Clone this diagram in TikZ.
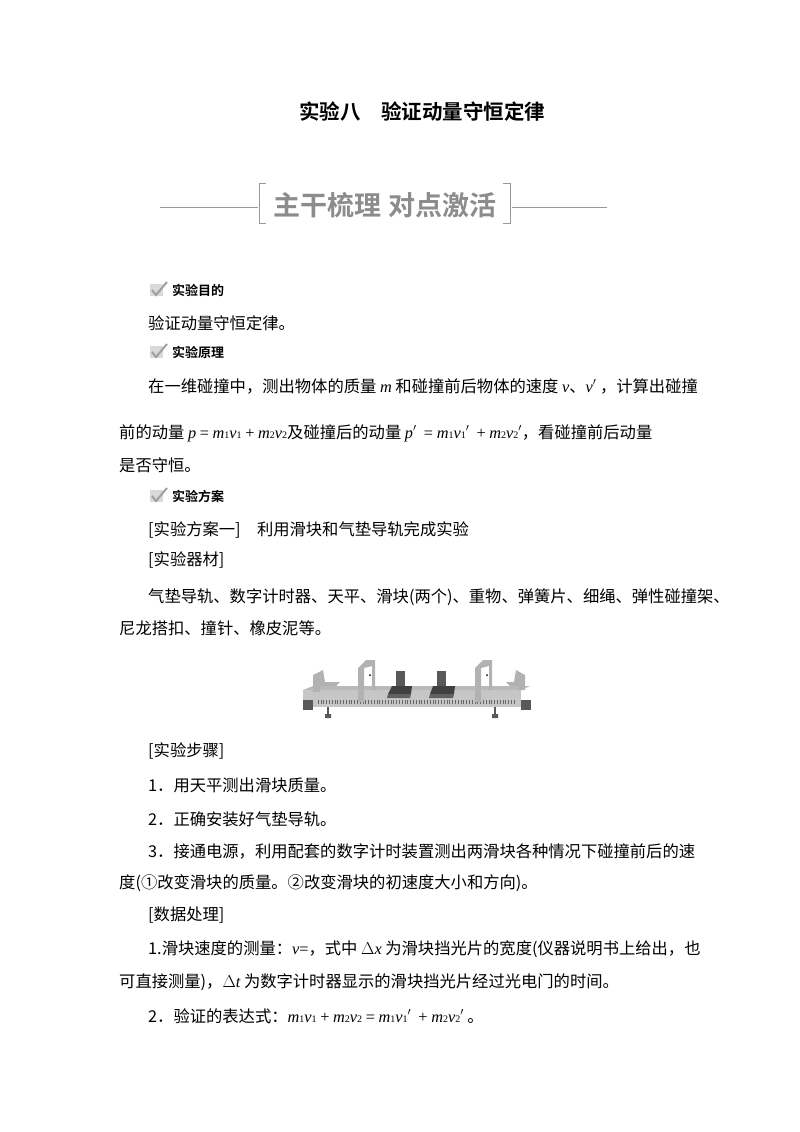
\documentclass[tikz,border=0pt]{standalone}
\usepackage{fontspec}
\setmainfont{Noto Sans CJK SC}
\newfontfamily\cjkb{Noto Sans CJK SC Bold}
\newfontfamily\tms{Liberation Serif}
\newcommand{\mi}[1]{{\tms\itshape #1}}
\newcommand{\mr}[1]{{\tms #1}}
\newcommand{\sbs}[1]{{\tms\fontsize{10}{10}\selectfont #1}}
\begin{document}
\begin{tikzpicture}[x=1pt,y=-1pt,
  txt/.style={anchor=west,inner sep=0pt,font=\fontsize{16.3}{16}\selectfont},
  hd/.style={anchor=west,inner sep=0pt,font=\cjkb\fontsize{13}{13}\selectfont},
  rule/.style={draw=gray!80,line width=1pt}]
\useasboundingbox (0,0) rectangle (800,1132);
\node[inner sep=0pt,font=\cjkb\fontsize{20.5}{20}\selectfont] (title) at (422,112) {实验八\quad 验证动量守恒定律};
% banner
\draw[rule] (160,207) -- (258,207);
\draw[rule] (512,207) -- (607,207);
\draw[rule] (266,183) -- (259,183) -- (259,223) -- (266,223);
\draw[rule] (503,183) -- (510,183) -- (510,223) -- (503,223);
\node[inner sep=0pt,text=gray!90,font=\cjkb\fontsize{27}{27}\selectfont] (ban) at (385,205) {主干梳理 对点激活};
% check icons
\foreach \y/\n in {290/c1,352/c2,496/c3}{
  \fill[gray!30] (150,\y-6) rectangle (163,\y+6);
  \draw[gray!75,line width=2pt] (152,\y) -- (156,\y+5) -- (167,\y-8);
}
\node[hd] (h1) at (172,290) {实验目的};
\node[txt] (t1) at (148,323) {验证动量守恒定律。};
\node[hd] (h2) at (172,352) {实验原理};
\node[txt] (t2) at (148,386) {在一维碰撞中，测出物体的质量 \mi{m} 和碰撞前后物体的速度 \mi{v}、\mi{v}$'$\ ，计算出碰撞};
\node[txt] (t3) at (119,433) {前的动量 \mi{p} \mr{=} \mi{m}\sbs{1}\mi{v}\sbs{1} \mr{+} \mi{m}\sbs{2}\mi{v}\sbs{2}及碰撞后的动量 \mi{p}$'$\ \ \mr{=} \mi{m}\sbs{1}\mi{v}\sbs{1}$'$\ \ \mr{+} \mi{m}\sbs{2}\mi{v}\sbs{2}$'$，看碰撞前后动量};
\node[txt] (t4) at (119,465) {是否守恒。};
\node[hd] (h3) at (172,496) {实验方案};
\node[txt] (t5) at (148,530) {[实验方案一]\quad 利用滑块和气垫导轨完成实验};
\node[txt] (t6) at (148,560) {[实验器材]};
\node[txt] (t7) at (148,597) {气垫导轨、数字计时器、天平、滑块(两个)、重物、弹簧片、细绳、弹性碰撞架、};
\node[txt] (t8) at (119,628) {尼龙搭扣、撞针、橡皮泥等。};
% figure
\fill[gray!55] (303,690) -- (313,686) -- (530,686) -- (521,690) -- cycle;
\fill[gray!45] (303,690) rectangle (521,707);
\foreach \i in {0,...,70}{\draw[gray!80!black,line width=0.5pt] (318+\i*2.8,700) -- (318+\i*2.8,704);}
\fill[gray!70!black] (303,700) rectangle (313,710);
\fill[gray!70!black] (521,700) rectangle (531,710);
\draw[gray!70!black,line width=1.5pt] (328,707) -- (328,716) (495,707) -- (495,716);
\fill[gray!70!black] (325,714) rectangle (331,718) (492,714) rectangle (498,718);
% bumpers
\fill[gray!60] (313,692) -- (313,675) -- (323,670) -- (325,682) -- (340,682) -- (336,686) -- (320,686) -- (320,692) -- cycle;
\fill[gray!60] (525,690) -- (525,675) -- (516,670) -- (514,682) -- (506,682) -- (510,686) -- (518,686) -- (518,690) -- cycle;
% gates
\fill[gray!60] (358,702) -- (358,668) -- (366,660) -- (375,660) -- (375,690) -- (372,690) -- (372,666) -- (364,668) -- (364,702) -- cycle;
\fill[black] (370,675) circle (1);
\fill[gray!60] (475,702) -- (475,668) -- (483,660) -- (492,660) -- (492,690) -- (489,690) -- (489,666) -- (481,668) -- (481,702) -- cycle;
\fill[black] (487,675) circle (1);
% sliders
\fill[gray!70!black] (396,671) rectangle (405,686);
\fill[gray!50!black] (392,686) -- (412,686) -- (411,694) -- (388,694) -- cycle;
\fill[gray!75!black] (388,694) -- (411,694) -- (410,698) -- (387,698) -- cycle;
\fill[gray!70!black] (437,671) rectangle (446,686);
\fill[gray!50!black] (433,686) -- (455,686) -- (454,694) -- (430,694) -- cycle;
\fill[gray!75!black] (430,694) -- (454,694) -- (453,698) -- (429,698) -- cycle;
\node[txt] (t9) at (148,751) {[实验步骤]};
\node[txt] (t10) at (148,785) {1．用天平测出滑块质量。};
\node[txt] (t11) at (148,819) {2．正确安装好气垫导轨。};
\node[txt] (t12) at (148,851) {3．接通电源，利用配套的数字计时装置测出两滑块各种情况下碰撞前后的速};
\node[txt] (t13) at (119,883) {度(①改变滑块的质量。②改变滑块的初速度大小和方向)。};
\node[txt] (t14) at (148,915) {[数据处理]};
\node[txt] (t15) at (148,949) {1.滑块速度的测量：\mi{v}\mr{=}，式中 \mr{$\Delta$}\mi{x} 为滑块挡光片的宽度(仪器说明书上给出，也};
\node[txt] (t16) at (119,982) {可直接测量)，\mr{$\Delta$}\mi{t} 为数字计时器显示的滑块挡光片经过光电门的时间。};
\node[txt] (t17) at (148,1016) {2．验证的表达式：\mi{m}\sbs{1}\mi{v}\sbs{1} \mr{+} \mi{m}\sbs{2}\mi{v}\sbs{2} \mr{=} \mi{m}\sbs{1}\mi{v}\sbs{1}$'$\ \ \mr{+} \mi{m}\sbs{2}\mi{v}\sbs{2}$'$\ 。};
\end{tikzpicture}
\end{document}
